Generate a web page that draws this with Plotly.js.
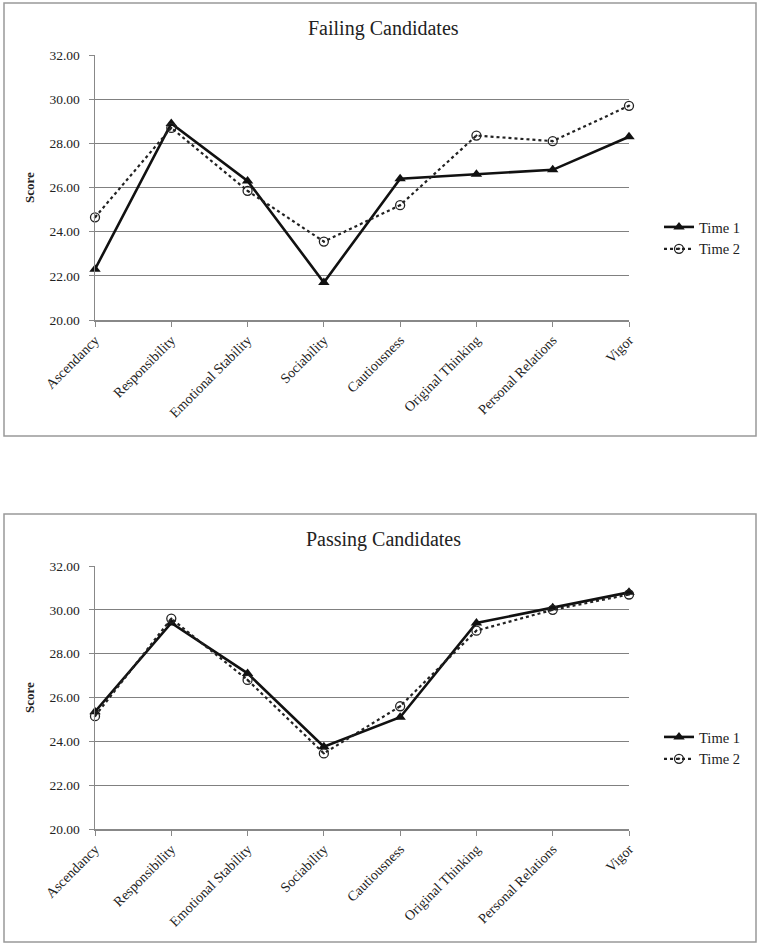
<!DOCTYPE html>
<html><head><meta charset="utf-8">
<script src="https://cdn.plot.ly/plotly-3.0.1.min.js"></script>
<style>html,body{margin:0;padding:0;background:#fff}#c{width:759px;height:945px}</style>
</head><body><div id="c"></div>
<script>
const categories = ["Ascendancy","Responsibility","Emotional Stability","Sociability","Cautiousness","Original Thinking","Personal Relations","Vigor"];
const failingTime1 = [22.3, 28.9, 26.3, 21.7, 26.4, 26.6, 26.8, 28.3];
const failingTime2 = [24.65, 28.7, 25.85, 23.55, 25.2, 28.35, 28.1, 29.7];
const passingTime1 = [25.35, 29.4, 27.1, 23.75, 25.1, 29.4, 30.1, 30.8];
const passingTime2 = [25.15, 29.6, 26.8, 23.45, 25.6, 29.05, 30.0, 30.7];
const seriesNames = ["Time 1", "Time 2"];
const chartTitles = ["Failing Candidates", "Passing Candidates"];
const yTitle = "Score";

const font = "Liberation Serif";
function t1(y, xa, ya, lg){return {x:categories,y:y,xaxis:xa,yaxis:ya,legend:lg,name:seriesNames[0],type:"scatter",mode:"lines+markers",
  line:{color:"#111",width:2.6},marker:{symbol:"triangle-up",size:10,color:"#111"},cliponaxis:false};}
function t2(y, xa, ya, lg){return {x:categories,y:y,xaxis:xa,yaxis:ya,legend:lg,name:seriesNames[1],type:"scatter",mode:"lines+markers",
  line:{color:"#222",width:2.2,dash:"dot"},marker:{symbol:"circle-open-dot",size:9,color:"#222",line:{width:1.3,color:"#222"}},cliponaxis:false};}

const data = [
  t1(failingTime1,"x","y","legend"), t2(failingTime2,"x","y","legend"),
  t1(passingTime1,"x2","y2","legend2"), t2(passingTime2,"x2","y2","legend2")
];
function xa(anchor){return {domain:[95/759,629/759],anchor:anchor,type:"category",range:[0,7],tickangle:-45,
  tickfont:{family:font,size:14,color:"#222"},showgrid:false,showline:true,linecolor:"#888",linewidth:1.5,
  ticks:"outside",ticklen:5,tickcolor:"#888",fixedrange:true,zeroline:false};}
function ya(anchor,dom){return {domain:dom,anchor:anchor,range:[20,32],dtick:2,tickformat:".2f",
  tickfont:{family:font,size:13.5,color:"#222"},showgrid:true,gridcolor:"#808080",gridwidth:1.3,showline:true,linecolor:"#888",linewidth:1.5,
  ticks:"outside",ticklen:5,tickcolor:"#888",zeroline:false,ticklabelstandoff:6,
  title:{text:"<b>"+yTitle+"</b>",font:{family:font,size:13,color:"#222"},standoff:12}};}
const legBase = {x:659/759,xanchor:"left",yanchor:"middle",bgcolor:"rgba(0,0,0,0)",font:{family:font,size:14.5,color:"#222"},
  itemwidth:30,tracegroupgap:2};
const layout = {
  width:759,height:945,margin:{l:0,r:0,t:0,b:0},paper_bgcolor:"#fff",plot_bgcolor:"#fff",showlegend:true,
  font:{family:font},
  xaxis:xa("y"), yaxis:ya("x",[1-320/945,1-55/945]),
  xaxis2:xa("y2"), yaxis2:ya("x2",[1-829/945,1-566/945]),
  legend:Object.assign({},legBase,{y:1-238/945}),
  legend2:Object.assign({},legBase,{y:1-748/945}),
  annotations:[
    {text:chartTitles[0],xref:"paper",yref:"paper",x:383/759,y:1-28/945,showarrow:false,xanchor:"center",yanchor:"middle",font:{family:font,size:20,color:"#222"}},
    {text:chartTitles[1],xref:"paper",yref:"paper",x:383/759,y:1-539/945,showarrow:false,xanchor:"center",yanchor:"middle",font:{family:font,size:20,color:"#222"}}
  ],
  shapes:[
    {type:"rect",xref:"paper",yref:"paper",x0:4/759,x1:756/759,y0:1-436/945,y1:1-3/945,line:{color:"#999",width:1.5}},
    {type:"rect",xref:"paper",yref:"paper",x0:4/759,x1:756/759,y0:1-942/945,y1:1-514/945,line:{color:"#999",width:1.5}}
  ]
};
Plotly.newPlot("c",data,layout,{staticPlot:true,displayModeBar:false});
</script></body></html>
